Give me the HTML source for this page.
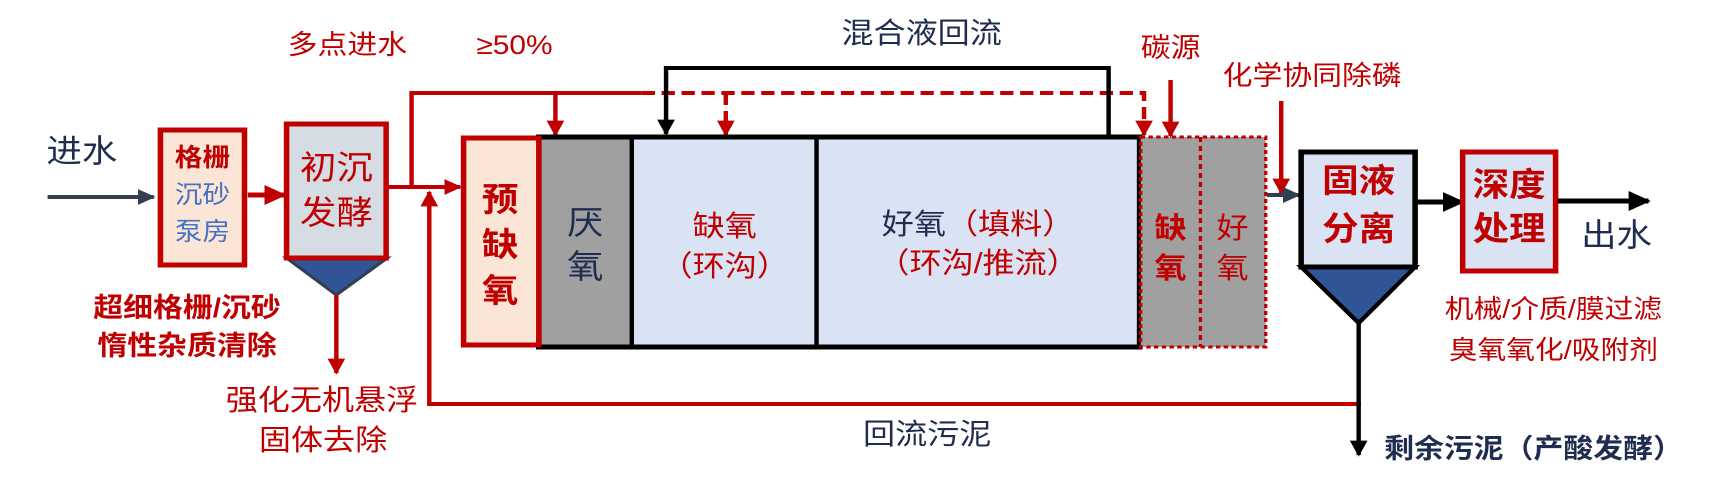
<!DOCTYPE html>
<html><head><meta charset="utf-8"><style>
html,body{margin:0;padding:0;background:#fff;}
svg{display:block;}
text{font-family:"Liberation Sans","Noto Sans CJK SC",sans-serif;}
</style></head><body>
<svg width="1726" height="497" viewBox="0 0 1560 497" preserveAspectRatio="none" xmlns="http://www.w3.org/2000/svg">
<defs>
<marker id="ar" viewBox="0 0 10 10" refX="9" refY="5" markerWidth="4" markerHeight="4" orient="auto"><path d="M0,0L10,5L0,10z" fill="#c00000"/></marker>
<marker id="ab" viewBox="0 0 10 10" refX="9" refY="5" markerWidth="4" markerHeight="4" orient="auto"><path d="M0,0L10,5L0,10z" fill="#000"/></marker>
<marker id="an" viewBox="0 0 10 10" refX="9" refY="5" markerWidth="4" markerHeight="4" orient="auto"><path d="M0,0L10,5L0,10z" fill="#333f50"/></marker>
</defs>

<!-- inflow -->
<text x="74" y="162" font-size="32" fill="#1f2d4f" text-anchor="middle">进水</text>
<line x1="43" y1="197" x2="139" y2="197" stroke="#333f50" stroke-width="4" marker-end="url(#an)"/>

<!-- screen box -->
<rect x="145" y="130" width="76" height="135" fill="#fbe5d6" stroke="#c00000" stroke-width="5"/>
<text x="183" y="166" font-size="25" fill="#c00000" text-anchor="middle" font-weight="bold">格栅</text>
<text x="183" y="203" font-size="25" fill="#4472c4" text-anchor="middle">沉砂</text>
<text x="183" y="240" font-size="25" fill="#4472c4" text-anchor="middle">泵房</text>
<line x1="224" y1="195" x2="257" y2="195" stroke="#c00000" stroke-width="5" marker-end="url(#ar)"/>

<!-- primary -->
<polygon points="259,258 350,258 304,295" fill="#2f5597" stroke="#333f50" stroke-width="3"/>
<rect x="259" y="124" width="90" height="134" fill="#d6dce4" stroke="#c00000" stroke-width="5"/>
<text x="304" y="179" font-size="33" fill="#c00000" text-anchor="middle">初沉</text>
<text x="304" y="224" font-size="33" fill="#c00000" text-anchor="middle">发酵</text>
<line x1="304" y1="295" x2="304" y2="373" stroke="#c00000" stroke-width="4" marker-end="url(#ar)"/>

<text x="169" y="317" font-size="27" font-weight="bold" fill="#c00000" text-anchor="middle">超细格栅/沉砂</text>
<text x="169" y="355" font-size="27" font-weight="bold" fill="#c00000" text-anchor="middle">惰性杂质清除</text>
<text x="291" y="410" font-size="29" fill="#c00000" text-anchor="middle">强化无机悬浮</text>
<text x="292" y="450" font-size="29" fill="#c00000" text-anchor="middle">固体去除</text>

<text x="314" y="54" font-size="27" fill="#c00000" text-anchor="middle">多点进水</text>
<text x="465" y="54" font-size="27" fill="#c00000" text-anchor="middle">≥50%</text>

<!-- red feed lines -->
<line x1="350" y1="187" x2="416" y2="187" stroke="#c00000" stroke-width="4" marker-end="url(#ar)"/>
<polyline points="372,187 372,93 580,93" fill="none" stroke="#c00000" stroke-width="4"/>
<polyline points="580,93 1034,93 1034,135" fill="none" stroke="#c00000" stroke-width="4" stroke-dasharray="12,6" marker-end="url(#ar)"/>
<line x1="502" y1="93" x2="502" y2="135" stroke="#c00000" stroke-width="4" marker-end="url(#ar)"/>
<line x1="656" y1="93" x2="656" y2="135" stroke="#c00000" stroke-width="4" stroke-dasharray="12,6" marker-end="url(#ar)"/>

<!-- return sludge -->
<polyline points="1230,404 388,404 388,192" fill="none" stroke="#c00000" stroke-width="4" marker-end="url(#ar)"/>
<text x="838" y="444" font-size="29" fill="#1f2d4f" text-anchor="middle">回流污泥</text>

<!-- mixed liquor recirc -->
<polyline points="1002,137 1002,68 602,68 602,134" fill="none" stroke="#000" stroke-width="4" marker-end="url(#ab)"/>
<text x="833" y="43" font-size="29" fill="#1f2d4f" text-anchor="middle">混合液回流</text>

<!-- reactor -->
<rect x="487" y="137" width="84" height="210" fill="#a0a0a0"/>
<rect x="571" y="137" width="167" height="210" fill="#dae3f3"/>
<rect x="738" y="137" width="292" height="210" fill="#dae3f3"/>
<rect x="487" y="137" width="543" height="210" fill="none" stroke="#000" stroke-width="5"/>
<line x1="571" y1="137" x2="571" y2="347" stroke="#000" stroke-width="4"/>
<line x1="738" y1="137" x2="738" y2="347" stroke="#000" stroke-width="4"/>
<rect x="419" y="138" width="68" height="207" fill="#fbe5d6" stroke="#c00000" stroke-width="5"/>
<text x="452" y="211" font-size="33" font-weight="bold" fill="#c00000" text-anchor="middle">预</text>
<text x="452" y="256" font-size="33" font-weight="bold" fill="#c00000" text-anchor="middle">缺</text>
<text x="452" y="302" font-size="33" font-weight="bold" fill="#c00000" text-anchor="middle">氧</text>
<text x="529" y="234" font-size="33" fill="#1f2d4f" text-anchor="middle">厌</text>
<text x="529" y="278" font-size="33" fill="#1f2d4f" text-anchor="middle">氧</text>
<text x="655" y="236" font-size="29" fill="#c00000" text-anchor="middle">缺氧</text>
<text x="655" y="276" font-size="29" fill="#c00000" text-anchor="middle">（环沟）</text>
<text x="884" y="234" font-size="29" text-anchor="middle"><tspan fill="#1f2d4f">好氧</tspan><tspan fill="#c00000">（填料）</tspan></text>
<text x="884" y="273" font-size="29" fill="#c00000" text-anchor="middle">（环沟/推流）</text>

<!-- post anoxic/aerobic -->
<rect x="1031" y="137" width="113" height="210" fill="#a0a0a0" stroke="#c00000" stroke-width="3" stroke-dasharray="4,3"/>
<line x1="1085" y1="137" x2="1085" y2="347" stroke="#c00000" stroke-width="3" stroke-dasharray="5,4"/>
<text x="1058" y="238" font-size="29" font-weight="bold" fill="#c00000" text-anchor="middle">缺</text>
<text x="1058" y="278" font-size="29" font-weight="bold" fill="#c00000" text-anchor="middle">氧</text>
<text x="1114" y="238" font-size="29" fill="#c00000" text-anchor="middle">好</text>
<text x="1114" y="278" font-size="29" fill="#c00000" text-anchor="middle">氧</text>

<text x="1058" y="57" font-size="27" fill="#c00000" text-anchor="middle">碳源</text>
<line x1="1058" y1="80" x2="1058" y2="136" stroke="#c00000" stroke-width="4" marker-end="url(#ar)"/>
<text x="1186" y="85" font-size="27" fill="#c00000" text-anchor="middle">化学协同除磷</text>
<line x1="1158" y1="101" x2="1158" y2="193" stroke="#c00000" stroke-width="4" marker-end="url(#ar)"/>
<line x1="1145" y1="195" x2="1174" y2="195" stroke="#333f50" stroke-width="4" marker-end="url(#an)"/>

<!-- clarifier -->
<polygon points="1176,267 1279,267 1228,323" fill="#2f5597" stroke="#000" stroke-width="4"/>
<rect x="1176" y="152" width="103" height="115" fill="#dae3f3" stroke="#000" stroke-width="5"/>
<text x="1228" y="192" font-size="33" font-weight="bold" fill="#c00000" text-anchor="middle">固液</text>
<text x="1228" y="240" font-size="33" font-weight="bold" fill="#c00000" text-anchor="middle">分离</text>
<line x1="1228" y1="323" x2="1228" y2="455" stroke="#000" stroke-width="4" marker-end="url(#ab)"/>
<text x="1386" y="458" font-size="27" font-weight="bold" fill="#1f2d4f" text-anchor="middle">剩余污泥（产酸发酵）</text>

<line x1="1280" y1="202" x2="1322" y2="202" stroke="#000" stroke-width="5" marker-end="url(#ab)"/>
<rect x="1322" y="152" width="84" height="119" fill="#dae3f3" stroke="#c00000" stroke-width="5"/>
<text x="1364" y="196" font-size="33" font-weight="bold" fill="#c00000" text-anchor="middle">深度</text>
<text x="1364" y="240" font-size="33" font-weight="bold" fill="#c00000" text-anchor="middle">处理</text>
<line x1="1408" y1="201" x2="1490" y2="201" stroke="#000" stroke-width="5" marker-end="url(#ab)"/>
<text x="1461" y="246" font-size="32" fill="#1f2d4f" text-anchor="middle">出水</text>
<text x="1404" y="318" font-size="26" fill="#c00000" text-anchor="middle">机械/介质/膜过滤</text>
<text x="1404" y="359" font-size="26" fill="#c00000" text-anchor="middle">臭氧氧化/吸附剂</text>
</svg>
</body></html>
